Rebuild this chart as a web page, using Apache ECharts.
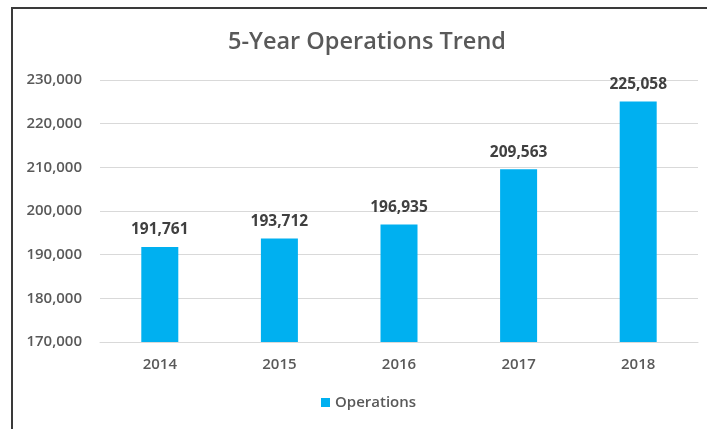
<!DOCTYPE html>
<html><head><meta charset="utf-8">
<script src="https://cdn.jsdelivr.net/npm/echarts@6/dist/echarts.min.js"></script>
<style>
html,body{margin:0;padding:0;background:#fff;overflow:hidden;}
#frame{position:absolute;left:11px;top:7px;width:720px;height:440px;border-left:2px solid #3a3a3a;border-top:2px solid #3a3a3a;}
#c{position:absolute;left:0;top:0;width:707px;height:429px;}
</style></head>
<body>
<div id="frame"></div>
<div id="c"></div>
<script>
const categories = ['2014','2015','2016','2017','2018'];
const operations = [191761, 193712, 196935, 209563, 225058];
const yTicks = [170000, 180000, 190000, 200000, 210000, 220000, 230000];

const FF = 'Open Sans';
const chart = echarts.init(document.getElementById('c'), null, {renderer:'canvas'});
const fmt = v => v.toLocaleString('en-US');
chart.setOption({
  animation:false,
  backgroundColor:'transparent',
  title:{text:'5-Year Operations Trend', left:223, top:25,
    textStyle:{fontFamily:FF, fontSize:23.5, fontWeight:600, color:'#595959'}},
  legend:{bottom:14, left:316, itemWidth:9, itemHeight:9, icon:'rect', itemGap:6,
    textStyle:{fontFamily:FF, fontSize:15, fontWeight:600, color:'#595959'}},
  grid:{left:100, right:9, top:80, bottom:87, containLabel:false},
  xAxis:{type:'category', data:categories,
    axisLine:{lineStyle:{color:'#d9d9d9', width:1}}, axisTick:{show:false},
    axisLabel:{fontFamily:FF, fontSize:15, fontWeight:600, color:'#595959', margin:15}},
  yAxis:{type:'value', min:yTicks[0], max:yTicks[yTicks.length-1], interval:10000,
    axisLine:{show:false}, axisTick:{show:false},
    splitLine:{lineStyle:{color:'#d9d9d9', width:1}},
    axisLabel:{fontFamily:FF, fontSize:15, fontWeight:600, color:'#595959', margin:18, formatter:fmt}},
  series:[{name:'Operations', type:'bar', data:operations, barWidth:37,
    itemStyle:{color:'#00B0F0'},
    label:{show:true, position:'top', distance:9, formatter:p=>fmt(p.value),
      fontFamily:FF, fontSize:15.5, fontWeight:'bold', color:'#404040'}}]
});
</script>
</body></html>
